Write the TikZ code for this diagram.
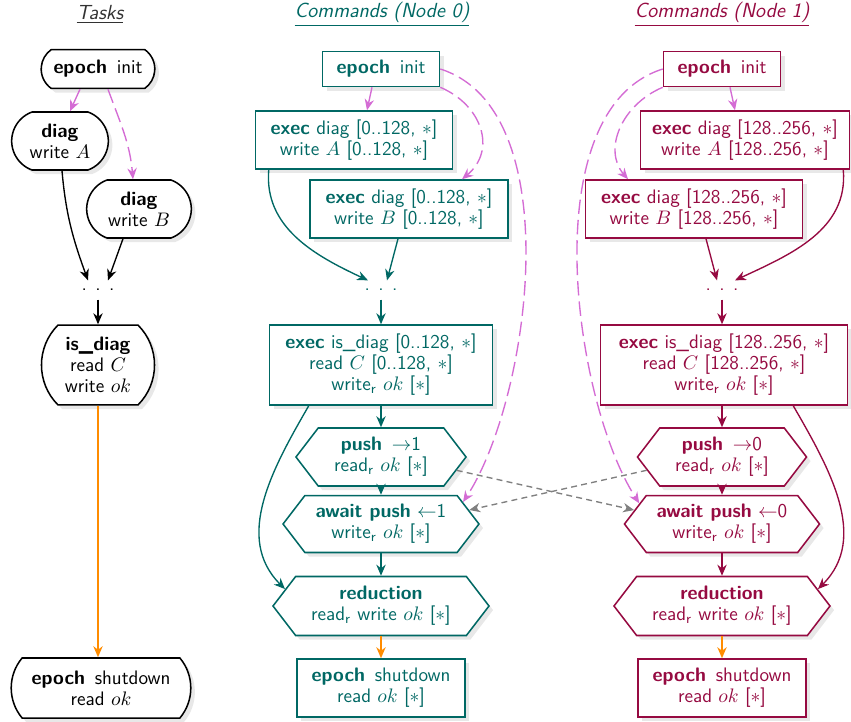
\RequirePackage{fix-cm}
\documentclass[tikz,border=0pt]{standalone}
\usetikzlibrary{shapes.misc,shapes.symbols,shadows,arrows.meta,calc}
\definecolor{cz}{RGB}{0,104,100}
\definecolor{co}{RGB}{150,10,65}
\definecolor{pk}{RGB}{212,108,212}
\definecolor{og}{RGB}{255,140,0}
\definecolor{tg}{RGB}{50,50,50}
\newcommand{\nodefont}{\fontsize{11.5}{12.3}\selectfont\sffamily}
\newcommand{\mydots}{.\hspace{5pt}.\hspace{5pt}.}
\tikzset{
  base/.style={draw, line width=0.9pt, fill=white, align=center, font=\nodefont, inner sep=1pt,
    drop shadow={shadow xshift=2.4pt, shadow yshift=-2.4pt, fill=black!18, draw=none}},
  task/.style={base, rounded rectangle, rounded rectangle arc length=#1},
  cmdz/.style={base, rectangle, draw=cz, text=cz},
  cmdo/.style={base, rectangle, draw=co, text=co},
  hexz/.style={base, signal, signal to=east and west, signal pointer angle=105, draw=cz, text=cz},
  hexo/.style={base, signal, signal to=east and west, signal pointer angle=105, draw=co, text=co},
  dotsnode/.style={font=\nodefont, inner sep=5pt},
  ttl/.style={font=\fontsize{12}{14}\selectfont\sffamily\itshape},
  con/.style={line width=0.8pt, -{Stealth[length=6.5pt,width=5.5pt]}},
  pkline/.style={con, draw=pk},
  pkdash/.style={pkline, dash pattern=on 8.5pt off 3.5pt},
  gdash/.style={con, draw=black!50, dash pattern=on 3.5pt off 2.5pt},
  orline/.style={con, draw=og},
}
\begin{document}
\begin{tikzpicture}[x=0.588pt, y=-0.588pt]
\useasboundingbox (0,0) rectangle (851,722);
% titles
\node[ttl, text=tg] (tT) at (100,14) {\underline{Tasks}};
\node[ttl, text=cz] (t0) at (382,14) {\underline{Commands (Node 0)}};
\node[ttl, text=co] (t1) at (722,14) {\underline{Commands (Node 1)}};
% tasks
\node[task=110, minimum width=68.8pt, minimum height=22.9pt] (initT) at (98,69) {\textbf{epoch}\enspace init};
\node[task=140, minimum width=58.8pt, minimum height=34.1pt] (diagA) at (60,141) {\textbf{diag}\\write $A$};
\node[task=140, minimum width=63.5pt, minimum height=34.1pt] (diagB) at (139,209) {\textbf{diag}\\write $B$};
\node[dotsnode] (dotsT) at (98,290) {\mydots};
\node[task=90, minimum width=67pt, minimum height=47pt] (isdT) at (98,365) {\textbf{is\_diag}\\read $C$\\write $ok$};
\node[task=80, minimum width=107.6pt, minimum height=35.3pt] (shutT) at (101,688) {\textbf{epoch}\enspace shutdown\\read $ok$};
% node 0
\node[cmdz, minimum width=68.8pt, minimum height=20.6pt] (init0) at (381,69) {\textbf{epoch}\enspace init};
\node[cmdz, minimum width=115.8pt, minimum height=34.1pt] (execA0) at (354,140) {\textbf{exec} diag [0..128, $\ast$]\\write $A$ [0..128, $\ast$]};
\node[cmdz, minimum width=116.4pt, minimum height=34.1pt] (execB0) at (409,209) {\textbf{exec} diag [0..128, $\ast$]\\write $B$ [0..128, $\ast$]};
\node[dotsnode, text=cz] (dots0) at (381,290) {\mydots};
\node[cmdz, minimum width=131.1pt, minimum height=47pt] (isd0) at (381,365) {\textbf{exec} is\_diag [0..128, $\ast$]\\read $C$ [0..128, $\ast$]\\write\textsubscript{r} $ok$ [$\ast$]};
\node[hexz, minimum width=100pt, minimum height=34.1pt] (push0) at (381,457) {\textbf{push}\enspace$\rightarrow$1\\read\textsubscript{r} $ok$ [$\ast$]};
\node[hexz, minimum width=115.2pt, minimum height=33.5pt] (await0) at (381,524) {\textbf{await push} $\leftarrow$1\\write\textsubscript{r} $ok$ [$\ast$]};
\node[hexz, minimum width=127pt, minimum height=34.7pt] (red0) at (381,606) {\textbf{reduction}\\read\textsubscript{r} write $ok$ [$\ast$]};
\node[cmdz, minimum width=98.8pt, minimum height=34.1pt] (shut0) at (381,688) {\textbf{epoch}\enspace shutdown\\read $ok$ [$\ast$]};
% node 1
\node[cmdo, minimum width=68.8pt, minimum height=20.6pt] (init1) at (722,69) {\textbf{epoch}\enspace init};
\node[cmdo, minimum width=122.9pt, minimum height=34.1pt] (execA1) at (745,140) {\textbf{exec} diag [128..256, $\ast$]\\write $A$ [128..256, $\ast$]};
\node[cmdo, minimum width=127.6pt, minimum height=34.1pt] (execB1) at (694,209) {\textbf{exec} diag [128..256, $\ast$]\\write $B$ [128..256, $\ast$]};
\node[dotsnode, text=co] (dots1) at (722,290) {\mydots};
\node[cmdo, minimum width=145.2pt, minimum height=47pt] (isd1) at (724,365) {\textbf{exec} is\_diag [128..256, $\ast$]\\read $C$ [128..256, $\ast$]\\write\textsubscript{r} $ok$ [$\ast$]};
\node[hexo, minimum width=99.4pt, minimum height=34.1pt] (push1) at (722,457) {\textbf{push}\enspace$\rightarrow$0\\read\textsubscript{r} $ok$ [$\ast$]};
\node[hexo, minimum width=114.7pt, minimum height=33.5pt] (await1) at (722,524) {\textbf{await push} $\leftarrow$0\\write\textsubscript{r} $ok$ [$\ast$]};
\node[hexo, minimum width=127pt, minimum height=34.7pt] (red1) at (722,606) {\textbf{reduction}\\read\textsubscript{r} write $ok$ [$\ast$]};
\node[cmdo, minimum width=98.8pt, minimum height=34.1pt] (shut1) at (722,688) {\textbf{epoch}\enspace shutdown\\read $ok$ [$\ast$]};
% ---- connectors: tasks
\draw[pkline] ($(initT.south)+(-18,0)$) -- ($(diagA.north)+(10,0)$);
\draw[pkdash] ($(initT.south)+(10,0)$) to[out=-70,in=95] ($(diagB.north)+(-6,0)$);
\draw[con] ($(diagA.south)+(2,0)$) to[out=-85,in=110] ($(dotsT.north)+(-10,0)$);
\draw[con] ($(diagB.south)+(-16,0)$) -- ($(dotsT.north)+(10,0)$);
\draw[con] (dotsT.south) -- (isdT.north);
\draw[orline] (isdT.south) -- (isdT.south |- shutT.north);
% ---- node 0
\draw[pkline] ($(init0.south)+(-9,0)$) -- ($(execA0.north)+(13,0)$);
\draw[pkdash] (init0.south east) .. controls (482,105) and (497,150) .. ($(execB0.north)+(53,0)$);
\draw[pkdash] (init0.east) .. controls (570,110) and (530,400) .. (await0.15);
\draw[con, cz] ($(execA0.south west)+(14,0)$) to[out=-95,in=155] ($(dots0.north)+(-13,0)$);
\draw[con, cz] ($(execB0.south)+(-11,0)$) -- ($(dots0.north)+(6,0)$);
\draw[con, cz] (dots0.south) -- (isd0.north);
\draw[con, cz] (isd0.south) -- (push0.north);
\draw[con, cz] (push0.south) -- (await0.north);
\draw[con, cz] (await0.south) -- (red0.north);
\draw[con, cz] ($(isd0.south west)+(40,0)$) to[out=-120,in=135] (red0.170);
\draw[orline] (red0.south) -- (shut0.north);
% ---- node 1
\draw[pkline] ($(init1.south)+(8,0)$) -- ($(execA1.north)+(-10,0)$);
\draw[pkdash] (init1.south west) .. controls (621,105) and (603,150) .. ($(execB1.north)+(-66,0)$);
\draw[pkdash] (init1.west) .. controls (533,110) and (573,400) .. (await1.166);
\draw[con, co] ($(execA1.south east)+(-7,0)$) to[out=-85,in=25] ($(dots1.north)+(13,0)$);
\draw[con, co] ($(execB1.south)+(12,0)$) -- ($(dots1.north)+(-5,0)$);
\draw[con, co] (dots1.south) -- (dots1.south |- isd1.north);
\draw[con, co] (isd1.south -| push1.north) -- (push1.north);
\draw[con, co] (push1.south) -- (await1.north);
\draw[con, co] (await1.south) -- (red1.north);
\draw[con, co] ($(isd1.south east)+(-55,0)$) to[out=-60,in=45] (red1.10);
\draw[orline] (red1.south) -- (shut1.north);
% ---- cross pushes
\draw[gdash] (push0.-10) -- (await1.171);
\draw[gdash] (push1.190) -- (await0.9);
\end{tikzpicture}
\end{document}
